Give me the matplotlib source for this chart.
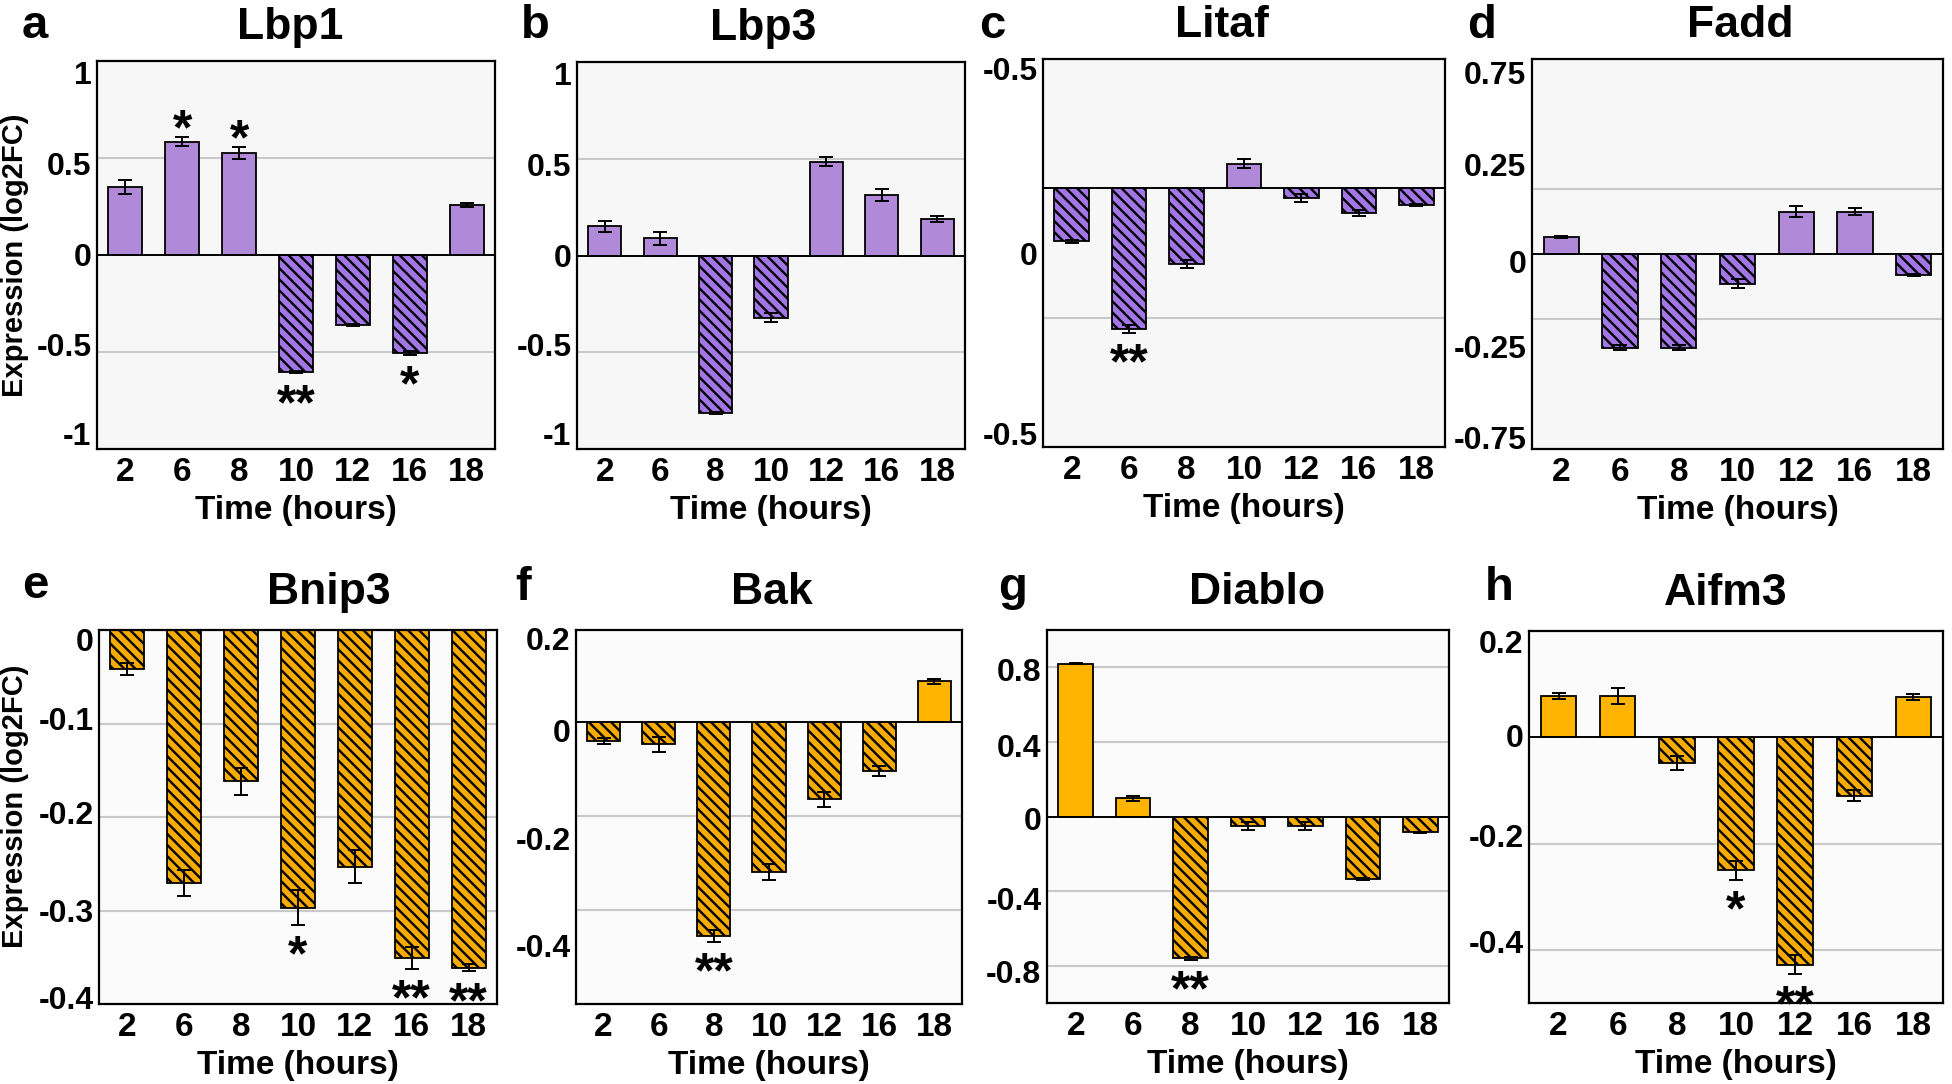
import matplotlib

matplotlib.use("Agg")
import matplotlib.pyplot as plt

plt.rcParams["font.family"] = ["Liberation Sans", "DejaVu Sans"]
plt.rcParams["font.weight"] = "bold"
plt.rcParams["hatch.linewidth"] = 1.7

W, H = 1952, 1084

HOURS = ["2", "6", "8", "10", "12", "16", "18"]
GENES = ["Lbp1", "Lbp3", "Litaf", "Fadd", "Bnip3", "Bak", "Diablo", "Aifm3"]
LETTERS = ["a", "b", "c", "d", "e", "f", "g", "h"]

# log2FC per time point, with error bars and significance marks
lbp1_vals = [0.352, 0.584, 0.527, -0.604, -0.362, -0.505, 0.259]
lbp1_err = [0.037, 0.022, 0.030, 0.005, 0.006, 0.008, 0.010]
lbp1_stars = ["", "*", "*", "**", "", "*", ""]

lbp3_vals = [0.150, 0.089, -0.812, -0.321, 0.484, 0.311, 0.188]
lbp3_err = [0.030, 0.035, 0.005, 0.025, 0.023, 0.031, 0.016]
lbp3_stars = ["", "", "", "", "", "", ""]

litaf_vals = [-0.102, -0.272, -0.146, 0.048, -0.018, -0.047, -0.033]
litaf_err = [0.003, 0.007, 0.008, 0.009, 0.008, 0.006, 0.002]
litaf_stars = ["", "**", "", "", "", "", ""]

fadd_vals = [0.064, -0.360, -0.360, -0.114, 0.163, 0.163, -0.080]
fadd_err = [0.004, 0.010, 0.010, 0.017, 0.021, 0.013, 0.004]
fadd_stars = ["", "", "", "", "", "", ""]

bnip3_vals = [-0.0415, -0.271, -0.162, -0.297, -0.253, -0.351, -0.361]
bnip3_err = [0.0063, 0.014, 0.0144, 0.0185, 0.018, 0.0115, 0.004]
bnip3_stars = ["", "", "", "*", "", "**", "**"]

bak_vals = [-0.040, -0.047, -0.4545, -0.3185, -0.1636, -0.103, 0.0873]
bak_err = [0.006, 0.015, 0.0127, 0.017, 0.0156, 0.011, 0.0055]
bak_stars = ["", "", "**", "", "", "", ""]

diablo_vals = [0.820, 0.098, -0.761, -0.050, -0.050, -0.337, -0.085]
diablo_err = [0.003, 0.013, 0.006, 0.020, 0.020, 0.006, 0.002]
diablo_stars = ["", "", "**", "", "", "", ""]

aifm3_vals = [0.078, 0.078, -0.048, -0.250, -0.428, -0.110, 0.076]
aifm3_err = [0.006, 0.015, 0.013, 0.018, 0.018, 0.010, 0.005]
aifm3_stars = ["", "", "", "*", "**", "", ""]

# y axis: limits, grid lines, tick label texts
ylims = [(-1, 1), (-1, 1), (-0.5, 0.25), (-0.75, 0.75),
         (-0.4, 0), (-0.6, 0.197), (-1, 1), (-0.5, 0.2)]
grid_vals = [[-0.5, 0.5], [-0.5, 0.5], [-0.25], [-0.25, 0.25],
             [-0.1, -0.2, -0.3], [-0.2, -0.4], [-0.8, -0.4, 0.4, 0.8], [-0.2, -0.4]]
ytick_labels = [
    ["1", "0.5", "0", "-0.5", "-1"],
    ["1", "0.5", "0", "-0.5", "-1"],
    ["-0.5", "0", "-0.5"],
    ["0.75", "0.25", "0", "-0.25", "-0.75"],
    ["0", "-0.1", "-0.2", "-0.3", "-0.4"],
    ["0.2", "0", "-0.2", "-0.4"],
    ["0.8", "0.4", "0", "-0.4", "-0.8"],
    ["0.2", "0", "-0.2", "-0.4"],
]
# where the tick labels sit in the reference (they drift off the grid lines)
ytick_pos = [
    [0.94, 0.47, 0, -0.46, -0.92],
    [0.94, 0.47, 0, -0.46, -0.92],
    [0.231, -0.126, -0.474],
    [0.699, 0.345, -0.029, -0.357, -0.705],
    [-0.010, -0.095, -0.195, -0.300, -0.393],
    [0.178, -0.018, -0.247, -0.476],
    [0.789, 0.383, -0.013, -0.437, -0.833],
    [0.181, 0.003, -0.184, -0.384],
]

values = [lbp1_vals, lbp3_vals, litaf_vals, fadd_vals,
          bnip3_vals, bak_vals, diablo_vals, aifm3_vals]
errors = [lbp1_err, lbp3_err, litaf_err, fadd_err,
          bnip3_err, bak_err, diablo_err, aifm3_err]
stars = [lbp1_stars, lbp3_stars, litaf_stars, fadd_stars,
         bnip3_stars, bak_stars, diablo_stars, aifm3_stars]

# axes boxes in pixels: left, right, top, bottom
boxes = [(97, 495, 61, 449), (577, 965, 62, 449), (1043, 1445, 59, 447), (1532, 1943, 59, 449),
         (99, 497, 630, 1004), (576, 962, 630, 1004), (1047, 1449, 630, 1003), (1529, 1943, 631, 1003)]
title_x = [0.485, 0.479, 0.445, 0.506, 0.578, 0.508, 0.522, 0.474]
letter_xy = [(35, 38), (535, 38), (992, 38), (1482, 38),
             (35, 598), (523, 600), (1013, 600), (1499, 600)]

PURPLE, PURPLE_H = "#B08AD8", "#A276E4"
ORANGE, ORANGE_H = "#FFB400", "#F7AA00"

fig = plt.figure(figsize=(W / 100, H / 100), dpi=100)

for i in range(8):
    l, r, t, b = boxes[i]
    ax = fig.add_axes([l / W, 1 - b / H, (r - l) / W, (b - t) / H])
    top_row = i < 4
    ax.set_facecolor("#F7F7F7" if top_row else "#FBFBFB")
    solid, hatched = (PURPLE, PURPLE_H) if top_row else (ORANGE, ORANGE_H)

    x = list(range(len(HOURS)))
    vals = values[i]
    faces = [solid if v >= 0 else hatched for v in vals]
    hatches = ["" if v >= 0 else "\\\\\\" for v in vals]

    for g in grid_vals[i]:
        ax.axhline(g, color="#C9C9C9", lw=1.5, zorder=0)

    bars = ax.bar(x, vals, width=0.6, color=faces, edgecolor="black",
                  linewidth=1.3, zorder=2)
    for bar, h in zip(bars, hatches):
        bar.set_hatch(h)
    ax.errorbar(x, vals, yerr=errors[i], fmt="none", ecolor="black",
                elinewidth=1.4, capsize=5, capthick=1.4, zorder=3)
    ax.axhline(0, color="black", lw=1.4, zorder=2.5)

    for xi, v, e, s in zip(x, vals, errors[i], stars[i]):
        if not s:
            continue
        if v >= 0:
            ax.annotate(s, (xi, v + e), xytext=(0, -5), textcoords="offset points",
                        ha="center", va="baseline", fontsize=36, fontweight="bold")
        else:
            ax.annotate(s, (xi, v - e), xytext=(0, -33), textcoords="offset points",
                        ha="center", va="baseline", fontsize=36, fontweight="bold")

    ax.set_xlim(-0.5, len(HOURS) - 0.5)
    ax.set_ylim(*ylims[i])
    ax.set_xticks(x)
    ax.set_xticklabels(HOURS, fontsize=24, fontweight="bold")
    ax.set_yticks(ytick_pos[i])
    ax.set_yticklabels(ytick_labels[i], fontsize=23, fontweight="bold")
    ax.tick_params(axis="both", length=0)
    ax.tick_params(axis="x", pad=6)
    ax.tick_params(axis="y", pad=4)
    for sp in ax.spines.values():
        sp.set_linewidth(1.6)
        sp.set_zorder(4)

    ax.set_xlabel("Time (hours)", fontsize=24, fontweight="bold", labelpad=5)
    if i in (0, 4):
        ax.set_ylabel("Expression (log2FC)", fontsize=21, fontweight="bold")
        ax.yaxis.set_label_coords(-0.17 if i == 0 else -0.175, 0.5 if i == 0 else 0.53)

    title = ax.set_title(GENES[i], fontsize=32, fontweight="bold",
                         pad=16 if top_row else 19)
    title.set_x(title_x[i])

    lx, ly = letter_xy[i]
    fig.text(lx / W, 1 - ly / H, LETTERS[i], fontsize=34, fontweight="bold",
             ha="center", va="baseline")

fig.savefig("out.png", dpi=100)
